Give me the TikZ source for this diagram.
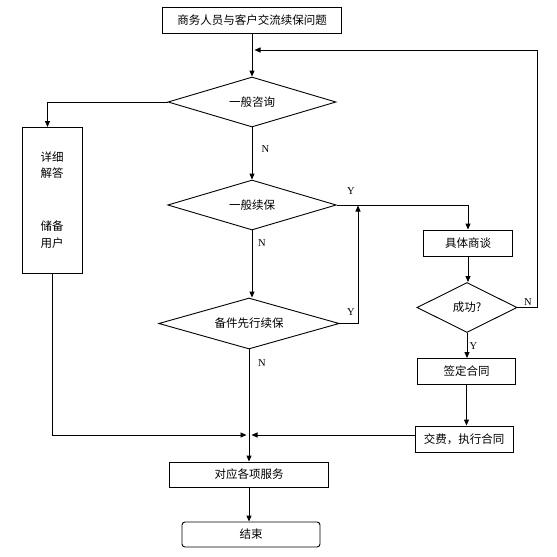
\documentclass[tikz,border=0pt]{standalone}
\usepackage{fontspec}
\setmainfont{Liberation Serif}
\newfontfamily\cjk{Noto Sans CJK SC}
\usetikzlibrary{shapes.geometric,arrows.meta}
\tikzset{
  base/.style={draw=black, line width=0.9pt, inner sep=0pt, font=\cjk\fontsize{11.5}{16.5}\selectfont},
  boxnode/.style={base, rectangle},
  decision/.style={base, diamond, aspect=3},
  endnode/.style={base, rectangle, rounded corners=3pt},
  conn/.style={draw=black, line width=0.9pt},
  arr/.style={conn, -{Triangle[length=6pt,width=5pt]}},
  yn/.style={font=\fontsize{10.5}{12}\selectfont, inner sep=0pt},
}
\begin{document}
\begin{tikzpicture}[x=1pt,y=-1pt]
\useasboundingbox[fill=white] (0,0) rectangle (557,557);

% nodes
\node[boxnode, minimum width=178.5pt, minimum height=26pt] (top) at (252,20) {商务人员与客户交流续保问题};
\node[decision, minimum width=168pt, minimum height=50pt] (d1) at (252,102) {一般咨询};
\node[boxnode, minimum width=60pt, minimum height=146pt, align=center] (left) at (52,200) {详细\\解答\\[36.5pt]储备\\用户};
\node[decision, minimum width=168.5pt, minimum height=50pt] (d2) at (252,205) {一般续保};
\node[decision, minimum width=180.5pt, minimum height=51pt] (d3) at (249,323.5) {备件先行续保};
\node[boxnode, minimum width=89pt, minimum height=26pt] (b1) at (468,243) {具体商谈};
\node[decision, minimum width=100pt, minimum height=50pt] (d4) at (467,307.5) {成功?};
\node[boxnode, minimum width=98pt, minimum height=26pt] (b2) at (466.5,371.5) {签定合同};
\node[boxnode, minimum width=98pt, minimum height=26pt] (b3) at (464,439) {交费，执行合同};
\node[boxnode, minimum width=158.5pt, minimum height=25pt] (b4) at (249,474.5) {对应各项服务};
\node[endnode, minimum width=138pt, minimum height=25pt] (end) at (251,534.5) {结束};

% helper coordinates
\coordinate (fbr) at (537,50);
\coordinate (fb) at (254.5,50);
\coordinate (lt) at (47.5,127);
\coordinate (upx) at (358,323.5);
\coordinate (upt) at (358,205.5);
\coordinate (jl) at (246.5,435);
\coordinate (jr) at (251.5,435);
\coordinate (lc) at (52,435);

% connectors
\draw[arr] (top.south) -- (top.south |- d1.north);
\draw[arr] (d1.west) -| (lt);
\draw[arr] (d1.south) -- (d1.south |- d2.north);
\draw[arr] (d2.east) -| (b1.north);
\draw[arr] (d2.south) -- (d2.south |- d3.north);
\draw[conn] (d3.east) -- (upx);
\draw[arr] (upx) -- (upt);
\draw[arr] (d3.south) -- (d3.south |- b4.north);
\draw[arr] (b1.south) -- (b1.south |- d4.north);
\draw[conn] (d4.east) -| (fbr);
\draw[arr] (fbr) -- (fb);
\draw[arr] (d4.south) -- (d4.south |- b2.north);
\draw[arr] (b2.south) -- (b2.south |- b3.north);
\draw[conn] (left.south) -- (lc);
\draw[arr] (lc) -- (jl);
\draw[arr] (jr -| b3.west) -- (jr);
\draw[arr] (b4.south) -- (b4.south |- end.north);

% labels
\node[yn] (n1) at (265.5,149) {N};
\node[yn] (y1) at (351,191) {Y};
\node[yn] (n2) at (262,243) {N};
\node[yn] (y2) at (351,312) {Y};
\node[yn] (n3) at (262,363) {N};
\node[yn] (n4) at (528,302) {N};
\node[yn] (y3) at (473.5,346) {Y};
\end{tikzpicture}
\end{document}
